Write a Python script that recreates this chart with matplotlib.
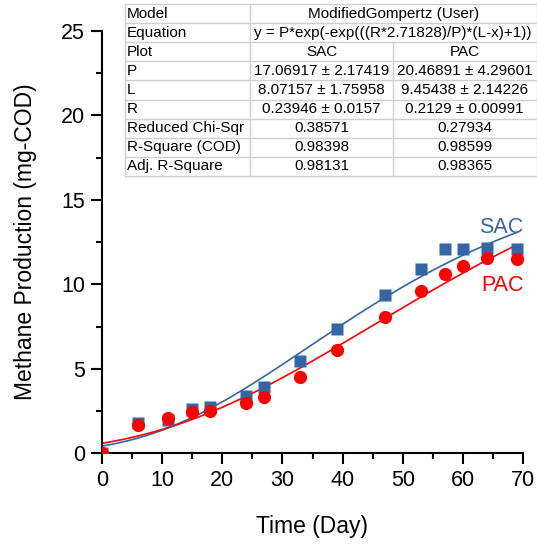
import numpy as np
import matplotlib
matplotlib.use("Agg")
import matplotlib.pyplot as plt
from matplotlib.ticker import MultipleLocator

plt.rcParams['font.family'] = ['Liberation Sans', 'DejaVu Sans']

days = [0, 6, 11, 15, 18, 24, 27, 33, 39, 47, 53, 57, 60, 64, 69]
sac = [0.0, 1.82, 2.0, 2.6, 2.73, 3.42, 3.9, 5.45, 7.33, 9.39, 10.89, 12.11, 12.11, 12.15, 12.11]
pac = [0.0, 1.68, 2.07, 2.47, 2.51, 3.0, 3.36, 4.49, 6.13, 8.04, 9.62, 10.59, 11.07, 11.54, 11.52]

# Fit parameters (Modified Gompertz) from the table
sac_P, sac_L, sac_R = 17.06917, 8.07157, 0.23946
pac_P, pac_L, pac_R = 20.46891, 9.45438, 0.2129

table_rows = [
    ["Model", "ModifiedGompertz (User)", None],
    ["Equation", "y = P*exp(-exp(((R*2.71828)/P)*(L-x)+1))", None],
    ["Plot", "SAC", "PAC"],
    ["P", "17.06917 \u00b1 2.17419", "20.46891 \u00b1 4.29601"],
    ["L", "8.07157 \u00b1 1.75958", "9.45438 \u00b1 2.14226"],
    ["R", "0.23946 \u00b1 0.0157", "0.2129 \u00b1 0.00991"],
    ["Reduced Chi-Sqr", "0.38571", "0.27934"],
    ["R-Square (COD)", "0.98398", "0.98599"],
    ["Adj. R-Square", "0.98131", "0.98365"],
]

BLUE = '#3565A5'
RED = '#FF0000'

def gompertz(x, P, L, R):
    return P * np.exp(-np.exp(((R * 2.71828) / P) * (L - x) + 1))

W, H = 537, 546
fig = plt.figure(figsize=(W/100, H/100), dpi=100)
ax = fig.add_axes([101.7/W, 1-453.3/H, (523.3-101.7)/W, (453.3-31.0)/H])

xf = np.linspace(0, 69, 300)
ax.plot(xf, gompertz(xf, sac_P, sac_L, sac_R), color=BLUE, lw=1.2, zorder=2)
ax.plot(xf, gompertz(xf, pac_P, pac_L, pac_R), color=RED, lw=1.2, zorder=2)
ax.plot(days, sac, 's', color=BLUE, ms=8.5, mec='none', zorder=3)
ax.plot(days, pac, 'o', color=RED, ms=9.5, mec='none', zorder=4)

ax.set_xlim(0, 70)
ax.set_ylim(0, 25)
ax.xaxis.set_major_locator(MultipleLocator(10))
ax.xaxis.set_minor_locator(MultipleLocator(5))
ax.yaxis.set_major_locator(MultipleLocator(5))
ax.yaxis.set_minor_locator(MultipleLocator(2.5))
for s in ['top', 'right']:
    ax.spines[s].set_visible(False)
for s in ['left', 'bottom']:
    ax.spines[s].set_linewidth(1.5)
ax.tick_params(which='major', direction='out', length=8, width=1.5, labelsize=15.5, pad=4)
ax.tick_params(which='minor', direction='out', length=4.5, width=1.5)
ax.set_xlabel("Time (Day)", fontsize=16.5, labelpad=17)
ax.set_ylabel("Methane Production (mg-COD)", fontsize=16.5, labelpad=17)

ax.text(70, 13.37, "SAC", color=BLUE, fontsize=15.5, ha='right', va='center', zorder=5)
ax.text(70, 9.93, "PAC", color=RED, fontsize=15.5, ha='right', va='center', zorder=5)

# Table drawn in pixel-based figure coordinates
tab = fig.add_axes([0, 0, 1, 1], facecolor='none')
tab.set_xlim(0, W)
tab.set_ylim(H, 0)
tab.axis('off')
x0, x1, x2, x3 = 125, 250, 393, 536.5
y_top, y_bot = 4, 176
n = len(table_rows)
rh = (y_bot - y_top) / n
tab.add_patch(plt.Rectangle((x0, y_top), x3 - x0, y_bot - y_top, facecolor='white', edgecolor='none', zorder=0))
gc = '#CFCFCF'
for i in range(n + 1):
    y = y_top + i * rh
    tab.plot([x0, x3], [y, y], color=gc, lw=1)
tab.plot([x0, x0], [y_top, y_bot], color=gc, lw=1)
tab.plot([x3, x3], [y_top, y_bot], color=gc, lw=1)
tab.plot([x1, x1], [y_top, y_bot], color=gc, lw=1)
tab.plot([x2, x2], [y_top + 2 * rh, y_bot], color=gc, lw=1)
fs = 11
for i, row in enumerate(table_rows):
    yc = y_top + (i + 0.5) * rh
    tab.text(x0 + 2, yc, row[0], fontsize=fs, ha='left', va='center')
    if row[2] is None:
        tab.text((x1 + x3) / 2, yc, row[1], fontsize=fs, ha='center', va='center')
    else:
        tab.text((x1 + x2) / 2, yc, row[1], fontsize=fs, ha='center', va='center')
        tab.text((x2 + x3) / 2, yc, row[2], fontsize=fs, ha='center', va='center')

fig.savefig("out.png", dpi=100)
